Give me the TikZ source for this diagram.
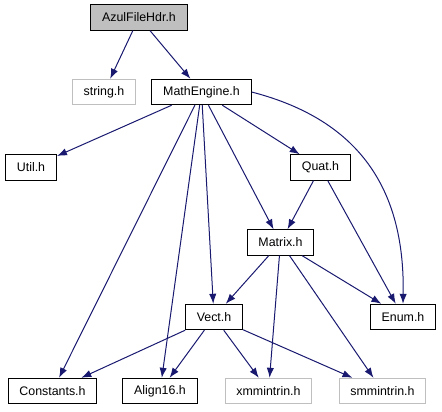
\documentclass[tikz,border=0pt]{standalone}
\usepackage{fontspec}
\setmainfont{Liberation Sans}
\usetikzlibrary{arrows.meta}
\definecolor{depblue}{HTML}{191970}
\definecolor{rootgray}{HTML}{BFBFBF}
\definecolor{sysline}{HTML}{BFBFBF}
\tikzset{
  filebox/.style={
    draw=black,
    fill=white,
    line width=0.8pt,
    inner xsep=8.5pt,
    inner ysep=0pt,
    minimum height=19pt,
    font=\fontsize{9.3}{11}\selectfont
  },
  rootbox/.style={
    filebox,
    fill=rootgray
  },
  sysbox/.style={
    filebox,
    draw=sysline
  },
  dep/.style={
    -{Latex[length=7.5pt,width=5.5pt]},
    line width=0.75pt,
    draw=depblue
  }
}

\begin{document}
\begin{tikzpicture}[x=0.75pt,y=-0.75pt]
\useasboundingbox (0,0) rectangle (442,411);
\node[rootbox] (azul) at (139,17.5) {AzulFileHdr.h};
\node[sysbox] (str) at (104,92) {string.h};
\node[filebox] (math) at (201.5,92) {MathEngine.h};
\node[filebox] (util) at (31,167.5) {Util.h};
\node[filebox] (quat) at (320.5,167.5) {Quat.h};
\node[filebox] (matrix) at (280.5,242.5) {Matrix.h};
\node[filebox] (vect) at (214,317) {Vect.h};
\node[filebox] (enum) at (403,317) {Enum.h};
\node[filebox] (const) at (52.5,391) {Constants.h};
\node[filebox] (align) at (160,391) {Align16.h};
\node[sysbox] (xmm) at (268.5,391) {xmmintrin.h};
\node[sysbox] (smm) at (382.5,391) {smmintrin.h};

\draw[dep] (azul) -- (str);
\draw[dep] (azul) -- (math);
\draw[dep] (math) -- (util);
\draw[dep] (math) -- (const);
\draw[dep] (math) -- (align);
\draw[dep] (math) -- (vect);
\draw[dep] (math) -- (matrix);
\draw[dep] (math) -- (quat);
\draw[dep] (math.east) .. controls (360,120) and (405,190) .. (enum.north);
\draw[dep] (quat) -- (matrix);
\draw[dep] (quat) -- (enum);
\draw[dep] (matrix) -- (vect);
\draw[dep] (matrix) -- (enum);
\draw[dep] (matrix) -- (xmm);
\draw[dep] (matrix) -- (smm);
\draw[dep] (vect) -- (const);
\draw[dep] (vect) -- (align);
\draw[dep] (vect) -- (xmm);
\draw[dep] (vect) -- (smm);
\end{tikzpicture}
\end{document}
